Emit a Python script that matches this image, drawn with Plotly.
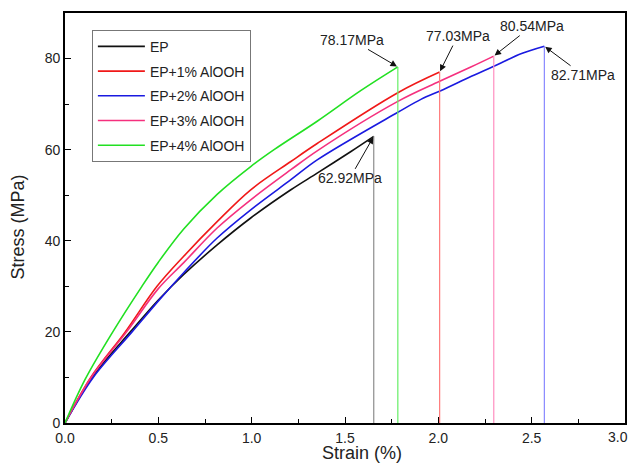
import plotly.graph_objects as go

# ---- data ----
series_names = ["EP", "EP+1% AlOOH", "EP+2% AlOOH", "EP+3% AlOOH", "EP+4% AlOOH"]

ep_strain = [0, 0.145, 0.35, 0.5, 0.636, 0.815, 0.995, 1.21, 1.353, 1.532, 1.654]
ep_stress = [0, 10.0, 20.0, 27.0, 32.6, 39.1, 45.0, 51.2, 54.9, 59.6, 62.92]

ep1_strain = [0, 0.138, 0.323, 0.493, 0.636, 0.815, 0.995, 1.21, 1.353, 1.783, 2.007]
ep1_stress = [0, 10.0, 20.0, 30.0, 36.6, 44.2, 51.2, 57.4, 61.4, 72.5, 77.03]

ep2_strain = [0, 0.151, 0.359, 0.511, 0.636, 0.815, 0.995, 1.21, 1.353, 1.783, 1.909,
              2.016, 2.177, 2.297, 2.446, 2.568]
ep2_stress = [0, 10.0, 20.0, 27.3, 33.0, 40.6, 46.8, 53.4, 57.8, 68.2, 71.1,
              73.0, 76.1, 78.3, 81.1, 82.71]

ep3_strain = [0, 0.14, 0.33, 0.5, 0.636, 0.815, 0.995, 1.21, 1.353, 1.783, 2.007, 2.177, 2.297]
ep3_stress = [0, 10.0, 20.0, 29.5, 35.2, 42.8, 49.0, 55.6, 59.8, 70.6, 75.0, 78.2, 80.54]

ep4_strain = [0, 0.107, 0.256, 0.412, 0.5, 0.636, 0.815, 0.995, 1.12, 1.353, 1.586, 1.783]
ep4_stress = [0, 9.5, 20.0, 30.0, 35.3, 42.6, 50.2, 56.3, 60.0, 66.3, 73.0, 78.17]

peak_labels = ["62.92MPa", "77.03MPa", "82.71MPa", "80.54MPa", "78.17MPa"]

x_title = "Strain (%)"
y_title = "Stress (MPa)"
x_ticks = [0.0, 0.5, 1.0, 1.5, 2.0, 2.5, 3.0]
x_tick_text = ["0.0", "0.5", "1.0", "1.5", "2.0", "2.5", "3.0"]
y_ticks = [0, 20, 40, 60, 80]

# ---- styling ----
line_colors = ["#111111", "#f01818", "#1a1ae0", "#f5307e", "#22e022"]
drop_colors = ["#8c8c8c", "#ff7a7a", "#8888ff", "#ff8ec0", "#66ee66"]
# annotation text offsets (pixels) from peak point
ann_offsets = [(-24, 42), (18, -36), (39, 29), (38, -30), (-46, -27)]

strains = [ep_strain, ep1_strain, ep2_strain, ep3_strain, ep4_strain]
stresses = [ep_stress, ep1_stress, ep2_stress, ep3_stress, ep4_stress]

FONT = "Liberation Sans, Arial, sans-serif"
TICK_FONT = dict(family=FONT, size=14, color="#222222")
TITLE_FONT = dict(family=FONT, size=18, color="#222222")

fig = go.Figure()
for i, name in enumerate(series_names):
    fig.add_trace(go.Scatter(
        x=strains[i], y=stresses[i], mode="lines", name=name,
        line=dict(color=line_colors[i], width=1.6, shape="spline", smoothing=1.0),
        legendgroup=name,
    ))
for i, name in enumerate(series_names):
    xe, ye = strains[i][-1], stresses[i][-1]
    fig.add_trace(go.Scatter(
        x=[xe, xe], y=[ye, 0], mode="lines", showlegend=False,
        line=dict(color=drop_colors[i], width=1.2), hoverinfo="skip",
    ))
    ax, ay = ann_offsets[i]
    fig.add_annotation(
        x=xe, y=ye, text=peak_labels[i], showarrow=True,
        ax=ax, ay=ay, arrowhead=2, arrowsize=1.3, arrowwidth=1,
        arrowcolor="#111111", font=dict(family=FONT, size=14, color="#222222"),
        standoff=1,
    )

# the last x tick label sits at the very right edge of the figure; draw it
# nudged left so it is not clipped
shown_ticktext = x_tick_text[:-1] + [""]
fig.add_annotation(
    x=x_ticks[-1], y=0, xref="x", yref="y", text=x_tick_text[-1],
    showarrow=False, xanchor="center", yanchor="top", xshift=-7, yshift=-4,
    font=TICK_FONT,
)

# axis titles (placed as in the reference, slightly off-centre)
fig.add_annotation(
    x=0.53, y=-0.074, xref="paper", yref="paper", text=x_title,
    showarrow=False, xanchor="center", yanchor="middle", font=TITLE_FONT,
)
fig.add_annotation(
    x=-0.084, y=0.479, xref="paper", yref="paper", text=y_title, textangle=-90,
    showarrow=False, xanchor="center", yanchor="middle", font=TITLE_FONT,
)

axis_common = dict(
    showline=True, linecolor="black", linewidth=1.8, mirror=True,
    ticks="inside", ticklen=6, tickwidth=1.3, tickcolor="black",
    showgrid=False, zeroline=False, automargin=False,
    tickfont=TICK_FONT,
)

# The page body has an 8px default margin on every side, so the figure is
# 16px smaller on each axis (avoids scrollbars) and margins are shifted.
fig.update_layout(
    width=620, height=456,
    margin=dict(l=57, r=3, t=5, b=41),
    paper_bgcolor="white", plot_bgcolor="white",
    font=dict(family=FONT, color="#222222"),
    xaxis=dict(
        range=[0, 3.0], tickvals=x_ticks, ticktext=shown_ticktext,
        ticklabelstandoff=1,
        minor=dict(ticks="inside", ticklen=4, tickwidth=1.2, tickcolor="black", dtick=0.25),
        **axis_common,
    ),
    yaxis=dict(
        range=[0, 90], tickvals=y_ticks,
        minor=dict(ticks="inside", ticklen=4, tickwidth=1.2, tickcolor="black", dtick=10),
        **axis_common,
    ),
    legend=dict(
        x=0.048, y=0.959, xanchor="left", yanchor="top",
        bgcolor="white", bordercolor="#777777", borderwidth=1,
        font=dict(family=FONT, size=14, color="#222222"),
        tracegroupgap=3.5, traceorder="grouped", itemwidth=47,
    ),
    showlegend=True,
)

fig.write_html("out.html")
